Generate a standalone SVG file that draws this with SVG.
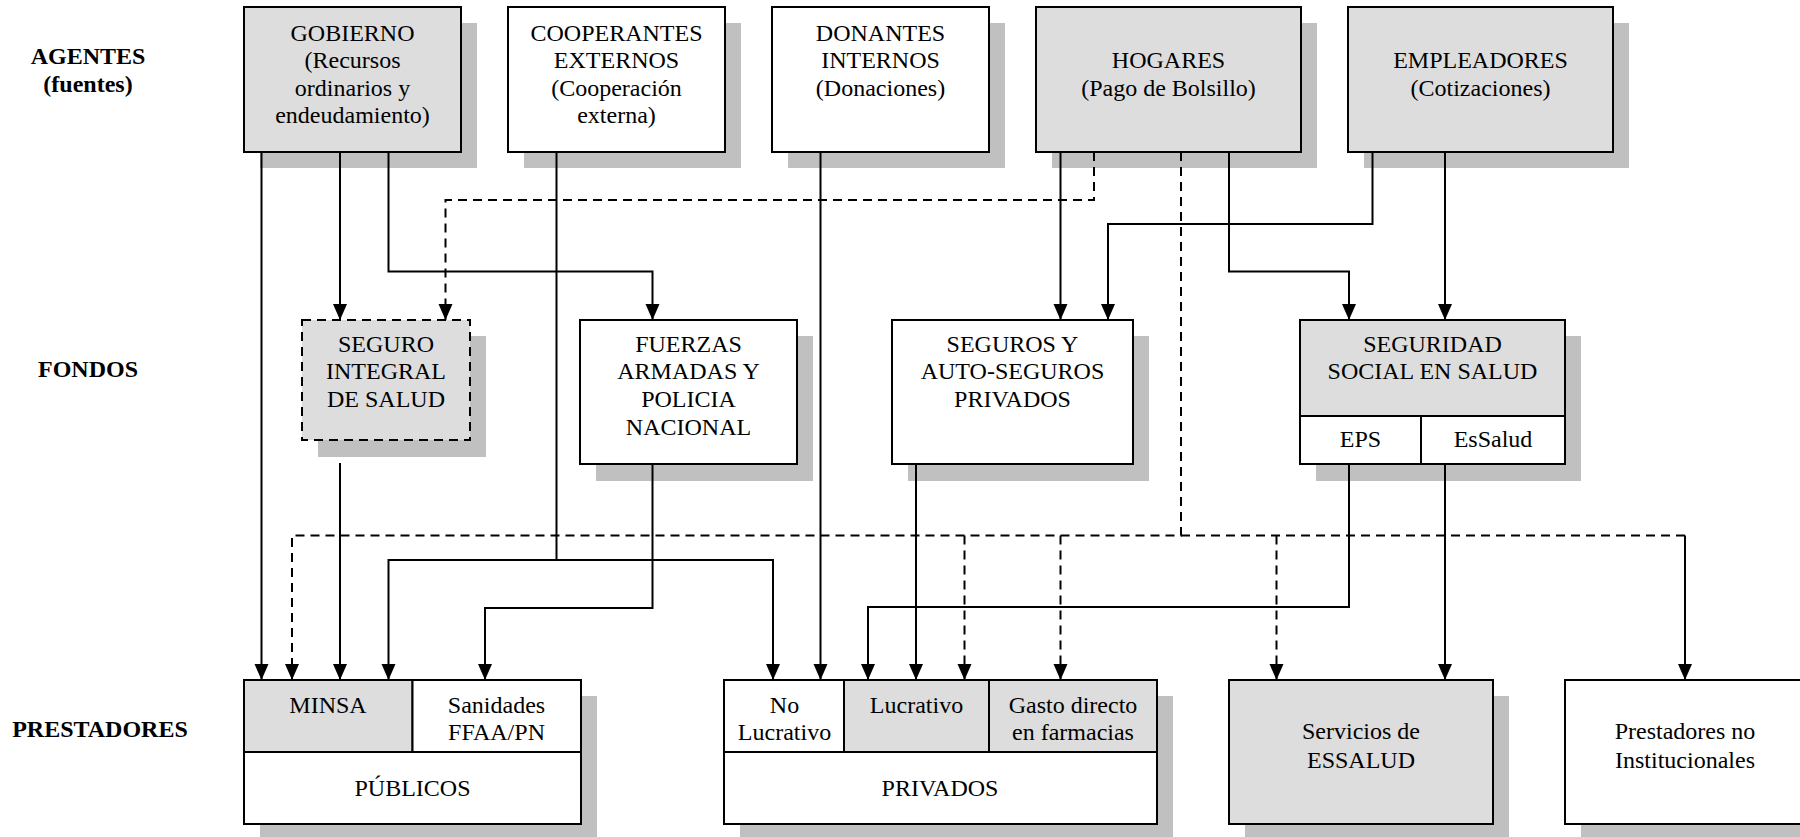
<svg xmlns="http://www.w3.org/2000/svg" width="1800" height="837" viewBox="0 0 1800 837">
<style>
text{font-family:"Liberation Serif","Times New Roman",serif;font-size:24px;fill:#000;text-anchor:middle}
.lbl{font-weight:bold}
.sh{fill:#c0c0c0}
.g{fill:#dddddd;stroke:#000;stroke-width:2}
.w{fill:#ffffff;stroke:#000;stroke-width:2}
.gd{fill:#dddddd;stroke:#000;stroke-width:2;stroke-dasharray:9 6}
.dv{fill:none;stroke:#000;stroke-width:2}
.c{fill:none;stroke:#000;stroke-width:2}
.d{fill:none;stroke:#000;stroke-width:2;stroke-dasharray:9 6}
</style>
<defs>
<marker id="ah" markerUnits="userSpaceOnUse" markerWidth="16" markerHeight="16" refX="16" refY="7" orient="auto">
<path d="M0,0 L16,7 L0,14 Z" fill="#000"/>
</marker>
</defs>
<rect width="1800" height="837" fill="#fff"/>

<g id="labels">
<text class="lbl" x="88" y="64">AGENTES</text>
<text class="lbl" x="88" y="92">(fuentes)</text>
<text class="lbl" x="88" y="377">FONDOS</text>
<text class="lbl" x="100" y="737">PRESTADORES</text>
</g>

<g id="shadows">
<rect class="sh" x="260" y="23" width="217" height="145"/>
<rect class="sh" x="524" y="23" width="217" height="145"/>
<rect class="sh" x="788" y="23" width="217" height="145"/>
<rect class="sh" x="1052" y="23" width="265" height="145"/>
<rect class="sh" x="1364" y="23" width="265" height="145"/>
<rect class="sh" x="318" y="336" width="168" height="121"/>
<rect class="sh" x="596" y="336" width="217" height="145"/>
<rect class="sh" x="908" y="336" width="241" height="145"/>
<rect class="sh" x="1316" y="336" width="265" height="145"/>
<rect class="sh" x="260" y="696" width="337" height="141"/>
<rect class="sh" x="740" y="696" width="433" height="141"/>
<rect class="sh" x="1245" y="696" width="264" height="141"/>
<rect class="sh" x="1581" y="696" width="240" height="141"/>
</g>

<g id="connectors">
<path class="c" d="M261.5,152 V680" marker-end="url(#ah)"/>
<path class="c" d="M340,152 V320" marker-end="url(#ah)"/>
<path class="c" d="M388.5,152 V271.5 H652.5 V320" marker-end="url(#ah)"/>
<path class="d" d="M1094,152 V200 H445.5 V320" marker-end="url(#ah)"/>
<path class="c" d="M556.5,152 V560 H388.5 V680" marker-end="url(#ah)"/>
<path class="c" d="M556.5,560 H773 V680" marker-end="url(#ah)"/>
<path class="c" d="M820.5,152 V680" marker-end="url(#ah)"/>
<path class="c" d="M1060.5,152 V320" marker-end="url(#ah)"/>
<path class="c" d="M1229,152 V271.5 H1349 V320" marker-end="url(#ah)"/>
<path class="c" d="M1372.5,152 V224 H1108 V320" marker-end="url(#ah)"/>
<path class="c" d="M1445,152 V320" marker-end="url(#ah)"/>
<path class="c" d="M340,463 V680" marker-end="url(#ah)"/>
<path class="c" d="M652.5,464 V608 H485 V680" marker-end="url(#ah)"/>
<path class="c" d="M916,464 V680" marker-end="url(#ah)"/>
<path class="c" d="M1349,464 V607 H868 V680" marker-end="url(#ah)"/>
<path class="c" d="M1445,464 V680" marker-end="url(#ah)"/>
<path class="d" d="M1181,152 V535.5 H292 V680" marker-end="url(#ah)"/>
<path class="d" d="M1181,535.5 H1685"/>
<path class="d" d="M964.5,535.5 V680" marker-end="url(#ah)"/>
<path class="d" d="M1060.5,535.5 V680" marker-end="url(#ah)"/>
<path class="d" d="M1276.5,535.5 V680" marker-end="url(#ah)"/>
<path class="c" d="M1685,535.5 V680" marker-end="url(#ah)"/>
</g>

<g id="gobierno">
<rect class="g" x="244" y="7" width="217" height="145"/>
<text x="352.5" y="40.5">GOBIERNO</text>
<text x="352.5" y="68">(Recursos</text>
<text x="352.5" y="95.5">ordinarios y</text>
<text x="352.5" y="123">endeudamiento)</text>
</g>
<g id="cooperantes">
<rect class="w" x="508" y="7" width="217" height="145"/>
<text x="616.5" y="40.5">COOPERANTES</text>
<text x="616.5" y="68">EXTERNOS</text>
<text x="616.5" y="95.5">(Cooperación</text>
<text x="616.5" y="123">externa)</text>
</g>
<g id="donantes">
<rect class="w" x="772" y="7" width="217" height="145"/>
<text x="880.5" y="40.5">DONANTES</text>
<text x="880.5" y="68">INTERNOS</text>
<text x="880.5" y="96">(Donaciones)</text>
</g>
<g id="hogares">
<rect class="g" x="1036" y="7" width="265" height="145"/>
<text x="1168.5" y="68">HOGARES</text>
<text x="1168.5" y="96">(Pago de Bolsillo)</text>
</g>
<g id="empleadores">
<rect class="g" x="1348" y="7" width="265" height="145"/>
<text x="1480.5" y="68">EMPLEADORES</text>
<text x="1480.5" y="96">(Cotizaciones)</text>
</g>

<g id="sis">
<rect class="gd" x="302" y="320" width="168" height="120"/>
<text x="386" y="351.5">SEGURO</text>
<text x="386" y="379">INTEGRAL</text>
<text x="386" y="407">DE SALUD</text>
</g>
<g id="fuerzas">
<rect class="w" x="580" y="320" width="217" height="144"/>
<text x="688.5" y="351.5">FUERZAS</text>
<text x="688.5" y="379">ARMADAS Y</text>
<text x="688.5" y="407">POLICIA</text>
<text x="688.5" y="434.5">NACIONAL</text>
</g>
<g id="seguros">
<rect class="w" x="892" y="320" width="241" height="144"/>
<text x="1012.5" y="351.5">SEGUROS Y</text>
<text x="1012.5" y="379">AUTO-SEGUROS</text>
<text x="1012.5" y="407">PRIVADOS</text>
</g>
<g id="seguridad">
<rect class="g" x="1300" y="320" width="265" height="96"/>
<rect class="w" x="1300" y="416" width="121" height="48"/>
<rect class="w" x="1421" y="416" width="144" height="48"/>
<text x="1432.5" y="351.5">SEGURIDAD</text>
<text x="1432.5" y="379">SOCIAL EN SALUD</text>
<text x="1360.5" y="447">EPS</text>
<text x="1493" y="447">EsSalud</text>
</g>

<g id="publicos">
<rect class="g" x="244" y="680" width="168.5" height="72"/>
<rect class="w" x="412.5" y="680" width="168.5" height="72"/>
<rect class="w" x="244" y="752" width="337" height="72"/>
<text x="328" y="713">MINSA</text>
<text x="496.5" y="713">Sanidades</text>
<text x="496.5" y="740">FFAA/PN</text>
<text x="412.5" y="795.5">PÚBLICOS</text>
</g>
<g id="privados">
<rect class="w" x="724" y="680" width="120" height="72"/>
<rect class="g" x="844" y="680" width="145" height="72"/>
<rect class="g" x="989" y="680" width="168" height="72"/>
<rect class="w" x="724" y="752" width="433" height="72"/>
<text x="784.5" y="713">No</text>
<text x="784.5" y="740">Lucrativo</text>
<text x="916.5" y="713">Lucrativo</text>
<text x="1073" y="713">Gasto directo</text>
<text x="1073" y="740">en farmacias</text>
<text x="940" y="795.5">PRIVADOS</text>
</g>
<g id="essalud">
<rect class="g" x="1229" y="680" width="264" height="144"/>
<text x="1361" y="739">Servicios de</text>
<text x="1361" y="767.5">ESSALUD</text>
</g>
<g id="noinstitucionales">
<rect class="w" x="1565" y="680" width="240" height="144"/>
<text x="1685" y="739">Prestadores no</text>
<text x="1685" y="767.5">Institucionales</text>
</g>
</svg>
